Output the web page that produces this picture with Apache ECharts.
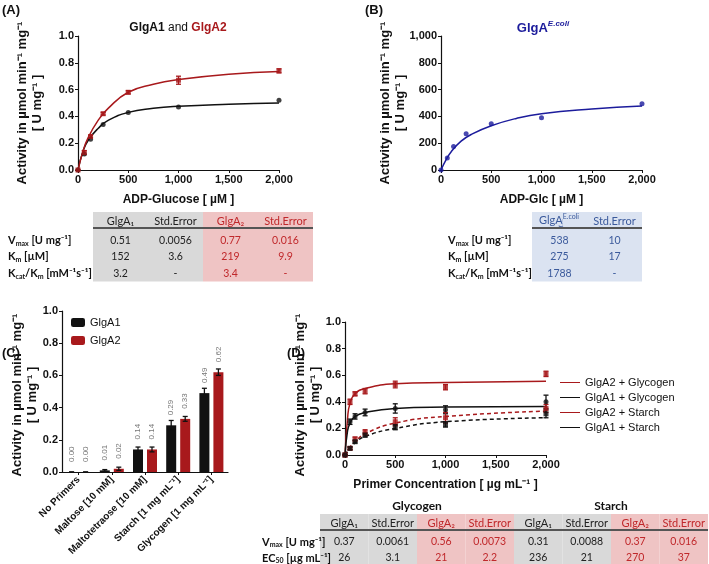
<!DOCTYPE html>
<html>
<head>
  <meta charset="utf-8">
  <title>GlgA activity</title>
  <script src="https://cdn.jsdelivr.net/npm/echarts@6/dist/echarts.min.js"></script>
  <style>html,body{margin:0;background:#fff}#chart{width:709px;height:564px}</style>
</head>
<body>
<div id="chart"></div>
<script>
// ---- data ----
const adpX = [0, 62.5, 125, 250, 500, 1000, 2000];
const a1Pts = [0, 0.12, 0.23, 0.34, 0.43, 0.47, 0.52];
const a2Pts = [0, 0.13, 0.25, 0.42, 0.58, 0.67, 0.74];
const a2Err = [0, 0.015, 0.01, 0.01, 0.012, 0.03, 0.015];
const fitX = [0, 50, 100, 200, 300, 500, 750, 1000, 1500, 2000];
const a1Fit = [0, 0.14, 0.22, 0.31, 0.37, 0.43, 0.46, 0.475, 0.49, 0.50];
const a2Fit = [0, 0.14, 0.24, 0.37, 0.46, 0.58, 0.64, 0.675, 0.715, 0.735];
const ecPts = [0, 90, 175, 270, 345, 390, 495];
const ecFit = [0, 75, 135, 215, 265, 330, 385, 420, 455, 478];

const primers = ['No Primers', 'Maltose [10 mM]', 'Maltotetraose [10 mM]', 'Starch [1 mg mL⁻¹]', 'Glycogen [1 mg mL⁻¹]'];
const barA1 = [0, 0.01, 0.14, 0.29, 0.49];
const barA2 = [0, 0.02, 0.14, 0.33, 0.62];
const barA1Err = [0, 0.005, 0.015, 0.03, 0.03];
const barA2Err = [0, 0.01, 0.015, 0.015, 0.02];

const primX = [0, 50, 100, 200, 500, 1000, 2000];
const g2Pts = [0, 0.40, 0.46, 0.48, 0.53, 0.51, 0.61];
const g1Pts = [0, 0.25, 0.29, 0.32, 0.35, 0.34, 0.40];
const s2Pts = [0, 0.05, 0.12, 0.17, 0.25, 0.28, 0.35];
const s1Pts = [0, 0.05, 0.10, 0.15, 0.21, 0.23, 0.31];
const g2Err = [0, 0.02, 0.015, 0.02, 0.025, 0.02, 0.02];
const g1Err = [0, 0.02, 0.02, 0.025, 0.035, 0.03, 0.05];
const s2Err = [0, 0.01, 0.015, 0.02, 0.03, 0.04, 0.03];
const s1Err = [0, 0.01, 0.01, 0.015, 0.02, 0.02, 0.03];
const pFitX = [0, 25, 50, 100, 200, 500, 1000, 2000];
const g2Fit = [0, 0.27, 0.39, 0.46, 0.50, 0.535, 0.545, 0.555];
const g1Fit = [0, 0.18, 0.24, 0.29, 0.32, 0.35, 0.36, 0.365];
const s2Fit = [0, 0.03, 0.06, 0.10, 0.16, 0.24, 0.29, 0.33];
const s1Fit = [0, 0.025, 0.05, 0.09, 0.14, 0.20, 0.25, 0.28];

const tabAHead = ['GlgA₁', 'Std.Error', 'GlgA₂', 'Std.Error'];
const tabARows = [['0.51', '0.0056', '0.77', '0.016'], ['152', '3.6', '219', '9.9'], ['3.2', '-', '3.4', '-']];
const tabBHead = ['GlgA', 'Std.Error'];
const tabBRows = [['538', '10'], ['275', '17'], ['1788', '-']];
const tabDHead = ['GlgA₁', 'Std.Error', 'GlgA₂', 'Std.Error', 'GlgA₁', 'Std.Error', 'GlgA₂', 'Std.Error'];
const tabDRows = [['0.37', '0.0061', '0.56', '0.0073', '0.31', '0.0088', '0.37', '0.016'],
                  ['26', '3.1', '21', '2.2', '236', '21', '270', '37']];

// ---- style ----
const RED = '#a8191c', BLK = '#111', BLUE = '#1c1c9c';
const FONT = 'Liberation Sans';
const TFONT = 'Lato';

let chart = echarts.init(document.getElementById('chart'));

function zip(xs, ys) { return xs.map((x, i) => [x, ys[i]]); }
function errData(xs, ys, es) { return xs.map((x, i) => [x, ys[i] - es[i], ys[i] + es[i]]); }

function errSeries(idx, data, color, offset) {
  return {
    type: 'custom', xAxisIndex: idx, yAxisIndex: idx, data: data, z: 5, silent: true,
    renderItem: function (params, api) {
      let lo = api.coord([api.value(0), api.value(1)]);
      let hi = api.coord([api.value(0), api.value(2)]);
      let x = lo[0] + (offset || 0);
      let st = { stroke: color, lineWidth: 1.3 };
      return { type: 'group', children: [
        { type: 'line', shape: { x1: x, y1: lo[1], x2: x, y2: hi[1] }, style: st },
        { type: 'line', shape: { x1: x - 2.5, y1: lo[1], x2: x + 2.5, y2: lo[1] }, style: st },
        { type: 'line', shape: { x1: x - 2.5, y1: hi[1], x2: x + 2.5, y2: hi[1] }, style: st }
      ]};
    }
  };
}

function lineSeries(idx, data, color, dashed, name) {
  return { type: 'line', name: name, xAxisIndex: idx, yAxisIndex: idx, data: data, smooth: true,
    symbol: 'none', lineStyle: { color: color, width: 1.5, type: dashed ? [4, 3] : 'solid' },
    itemStyle: { color: color } };
}
function dotSeries(idx, data, color, sym) {
  return { type: 'scatter', xAxisIndex: idx, yAxisIndex: idx, data: data, symbol: sym || 'circle',
    symbolSize: 5, itemStyle: { color: color }, z: 6 };
}

const axisCommon = {
  axisLine: { show: true, lineStyle: { color: '#111', width: 1.2 } },
  axisTick: { show: true, length: 3, lineStyle: { color: '#111' } },
  splitLine: { show: false },
  axisLabel: { color: '#111', fontFamily: FONT, fontWeight: 'bold', fontSize: 11, margin: 4 }
};
function valX(idx, name) {
  return Object.assign({}, axisCommon, { type: 'value', gridIndex: idx, min: 0, max: 2000, interval: 500,
    name: name, nameLocation: 'middle', nameGap: 24,
    nameTextStyle: { fontFamily: FONT, fontWeight: 'bold', fontSize: 12, color: '#111' } });
}
function valY(idx, max, interval, fmt) {
  return Object.assign({}, axisCommon, { type: 'value', gridIndex: idx, min: 0, max: max, interval: interval,
    axisLabel: Object.assign({}, axisCommon.axisLabel, { formatter: fmt }) });
}
const f1 = v => v.toFixed(1);

// ---- graphics: labels & tables ----
const g = [];
function txt(x, y, text, opt) {
  g.push(Object.assign({ type: 'text', x: x, y: y, style: Object.assign({ text: text, fontFamily: FONT,
    fontWeight: 'bold', fontSize: 12, fill: '#111' }, opt || {}) }));
}
function ylab(x, y) {
  g.push({ type: 'text', x: x, y: y, rotation: Math.PI / 2, style: { text: 'Activity in µmol min⁻¹ mg⁻¹\n[ U mg⁻¹ ]',
    fontFamily: FONT, fontWeight: 'bold', fontSize: 13, fill: '#111', align: 'center', verticalAlign: 'middle', lineHeight: 15 } });
}
const labRich = {
  b: { fontFamily: TFONT, fontWeight: 'bold', fontSize: 11, fill: '#111' },
  s: { fontFamily: TFONT, fontWeight: 'bold', fontSize: 7, fill: '#111', padding: [6, 0, 0, 0] }
};
const rowLabABC = ['{b|V}{s|max}{b| [U mg⁻¹]}', '{b|K}{s|m}{b| [µM]}', '{b|K}{s|cat}{b|/K}{s|m}{b| [mM⁻¹s⁻¹]}'];
const rowLabD = ['{b|V}{s|max}{b| [U mg⁻¹]}', '{b|EC}{s|50}{b| [µg mL⁻¹]}'];

function table(x0, top, colW, heads, rows, bgs, cols, labX, labels, rowH) {
  const n = heads.length, hh = 16;
  const h = hh + rows.length * rowH + 4;
  for (let c = 0; c < n; c++) {
    g.push({ type: 'rect', shape: { x: x0 + c * colW, y: top, width: colW, height: h }, style: { fill: bgs[c] }, silent: true });
    txt(x0 + c * colW + colW / 2, top + hh / 2 + 1, heads[c], { fontFamily: TFONT, fontSize: 11, fontWeight: 'normal',
      fill: cols[c], align: 'center', verticalAlign: 'middle' });
    rows.forEach((r, i) => txt(x0 + c * colW + colW / 2, top + hh + 4 + rowH * i + rowH / 2, r[c],
      { fontFamily: TFONT, fontSize: 10.5, fontWeight: 'normal', fill: cols[c], align: 'center', verticalAlign: 'middle' }));
  }
  g.push({ type: 'line', shape: { x1: x0, y1: top + hh, x2: x0 + n * colW, y2: top + hh }, style: { stroke: '#555', lineWidth: 2 } });
  labels.forEach((l, i) => g.push({ type: 'text', x: labX, y: top + hh + 4 + rowH * i + rowH / 2,
    style: { text: l, rich: labRich, verticalAlign: 'middle' } }));
}

const GRAY = '#d9d9d9', PINK = '#efc4c4', LBLUE = '#dbe3f1', TRED = '#c0282b', TBLUE = '#3b5a9c';

txt(2, 10, '(A)', { fontSize: 13, verticalAlign: 'middle' });
txt(365, 10, '(B)', { fontSize: 13, verticalAlign: 'middle' });
txt(2, 353, '(C)', { fontSize: 13, verticalAlign: 'middle' });
txt(287, 353, '(D)', { fontSize: 13, verticalAlign: 'middle' });
g.push({ type: 'text', x: 178, y: 28, style: { text: '{k|GlgA1 }{n|and }{r|GlgA2}', align: 'center', verticalAlign: 'middle',
  rich: { k: { fontFamily: FONT, fontWeight: 'bold', fontSize: 12, fill: '#111' }, n: { fontFamily: FONT, fontSize: 12, fill: '#111' },
          r: { fontFamily: FONT, fontWeight: 'bold', fontSize: 12, fill: RED } } } });
g.push({ type: 'text', x: 543, y: 28, style: { text: '{a|GlgA}{s|E.coli}', align: 'center', verticalAlign: 'middle',
  rich: { a: { fontFamily: FONT, fontWeight: 'bold', fontSize: 13, fill: BLUE },
          s: { fontFamily: FONT, fontWeight: 'bold', fontStyle: 'italic', fontSize: 8, fill: BLUE, padding: [0, 0, 8, 0] } } } });
ylab(30, 103);
ylab(393, 103);
ylab(25, 395);
ylab(308, 395);

table(93, 212, 55, tabAHead, tabARows, [GRAY, GRAY, PINK, PINK], ['#222', '#222', TRED, TRED], 8, rowLabABC, 16.5);
table(532, 212, 55, tabBHead, tabBRows, [LBLUE, LBLUE], [TBLUE, TBLUE], 448, rowLabABC, 16.5);
g.push({ type: 'text', x: 559, y: 220, style: { text: '{a|GlgA}{s|E.coli}', align: 'center', verticalAlign: 'middle',
  rich: { a: { fontFamily: TFONT, fontSize: 11, fill: TBLUE, backgroundColor: LBLUE }, s: { fontFamily: TFONT, fontSize: 7, fill: TBLUE, padding: [0, 0, 6, 0], backgroundColor: LBLUE } } } });
table(320, 514, 48.5, tabDHead, tabDRows, [GRAY, GRAY, PINK, PINK, GRAY, GRAY, PINK, PINK],
  ['#222', '#222', TRED, TRED, '#222', '#222', TRED, TRED], 262, rowLabD, 16);
txt(417, 506, 'Glycogen', { fontFamily: TFONT, fontSize: 12, align: 'center', verticalAlign: 'middle' });
txt(611, 506, 'Starch', { fontFamily: TFONT, fontSize: 12, align: 'center', verticalAlign: 'middle' });

// ---- option ----
const barLabel = { show: true, position: 'top', rotate: 90, align: 'left', verticalAlign: 'middle', distance: 10,
  color: '#777', fontFamily: FONT, fontSize: 8, formatter: p => p.value.toFixed(2) };

chart.setOption({
  animation: false,
  grid: [
    { left: 78, top: 36, width: 201, height: 134 },
    { left: 441, top: 36, width: 201, height: 134 },
    { left: 62, top: 311, width: 166, height: 161 },
    { left: 345, top: 322, width: 201, height: 133 }
  ],
  xAxis: [
    valX(0, 'ADP-Glucose [ µM ]'),
    valX(1, 'ADP-Glc [ µM ]'),
    Object.assign({}, axisCommon, { type: 'category', gridIndex: 2, data: primers,
      axisTick: { show: true, length: 3, alignWithLabel: true },
      axisLabel: Object.assign({}, axisCommon.axisLabel, { rotate: 45, fontSize: 10, interval: 0, margin: 6 }) }),
    valX(3, 'Primer Concentration [ µg mL⁻¹ ]')
  ],
  yAxis: [
    valY(0, 1, 0.2, f1),
    valY(1, 1000, 200),
    valY(2, 1, 0.2, f1),
    valY(3, 1, 0.2, f1)
  ],
  legend: [
    { data: ['GlgA1', 'GlgA2'], orient: 'vertical', left: 66, top: 312, itemWidth: 14, itemHeight: 9, itemGap: 7,
      textStyle: { fontFamily: FONT, fontSize: 11, color: '#111' } },
    { data: ['GlgA2 + Glycogen', 'GlgA1 + Glycogen', 'GlgA2 + Starch', 'GlgA1 + Starch'], orient: 'vertical',
      left: 555, top: 372, itemWidth: 20, itemHeight: 8, itemGap: 4, icon: 'path://M0,0H20V1H0Z',
      textStyle: { fontFamily: FONT, fontSize: 11, color: '#111' } }
  ],
  series: [
    lineSeries(0, zip(fitX, a1Fit), BLK),
    lineSeries(0, zip(fitX, a2Fit), RED),
    dotSeries(0, zip(adpX, a1Pts), BLK),
    dotSeries(0, zip(adpX, a2Pts), RED, 'rect'),
    errSeries(0, errData(adpX, a2Pts, a2Err), RED),
    lineSeries(1, zip(fitX, ecFit), BLUE),
    dotSeries(1, zip(adpX, ecPts), BLUE),
    { type: 'bar', name: 'GlgA1', xAxisIndex: 2, yAxisIndex: 2, data: barA1, barWidth: 10, barGap: '40%',
      itemStyle: { color: BLK }, label: barLabel },
    { type: 'bar', name: 'GlgA2', xAxisIndex: 2, yAxisIndex: 2, data: barA2, barWidth: 10, barGap: '40%',
      itemStyle: { color: RED }, label: barLabel },
    errSeries(2, barA1.map((v, i) => [i, v - barA1Err[i], v + barA1Err[i]]), BLK, -7),
    errSeries(2, barA2.map((v, i) => [i, v - barA2Err[i], v + barA2Err[i]]), BLK, 7),
    lineSeries(3, zip(pFitX, g2Fit), RED, false, 'GlgA2 + Glycogen'),
    lineSeries(3, zip(pFitX, g1Fit), BLK, false, 'GlgA1 + Glycogen'),
    lineSeries(3, zip(pFitX, s2Fit), RED, true, 'GlgA2 + Starch'),
    lineSeries(3, zip(pFitX, s1Fit), BLK, true, 'GlgA1 + Starch'),
    dotSeries(3, zip(primX, g2Pts), RED, 'rect'),
    dotSeries(3, zip(primX, g1Pts), BLK),
    dotSeries(3, zip(primX, s2Pts), RED, 'rect'),
    dotSeries(3, zip(primX, s1Pts), BLK, 'rect'),
    errSeries(3, errData(primX, g2Pts, g2Err), RED),
    errSeries(3, errData(primX, g1Pts, g1Err), BLK),
    errSeries(3, errData(primX, s2Pts, s2Err), RED),
    errSeries(3, errData(primX, s1Pts, s1Err), BLK)
  ],
  graphic: g
});
</script>
</body>
</html>
